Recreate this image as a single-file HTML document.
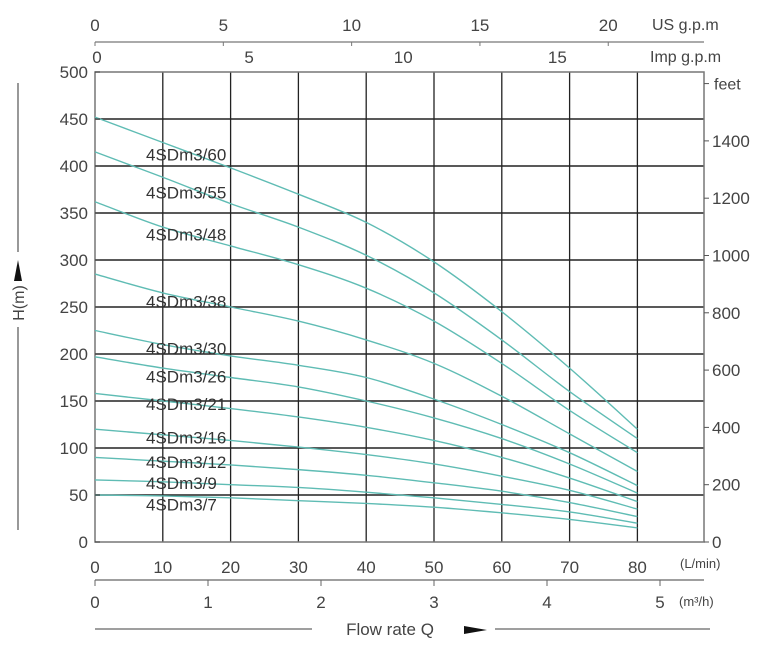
<!DOCTYPE html>
<html><head><meta charset="utf-8"><style>
html,body{margin:0;padding:0;background:#fff;}
svg{display:block;font-family:"Liberation Sans",sans-serif;}
</style></head><body>
<svg id="chart" width="782" height="651" viewBox="0 0 782 651" xmlns="http://www.w3.org/2000/svg">
<g id="grid"></g>
<g id="curves"></g>
<g id="labels"></g>
<g id="axes"></g>
</svg>
<script>
const flowLmin = [0,10,20,30,40,50,60,70,80];
const models = ["4SDm3/60","4SDm3/55","4SDm3/48","4SDm3/38","4SDm3/30","4SDm3/26","4SDm3/21","4SDm3/16","4SDm3/12","4SDm3/9","4SDm3/7"];
const head60 = [452,425,398,370,340,298,245,185,120];
const head55 = [415,388,360,335,305,265,215,160,110];
const head48 = [362,335,315,295,270,235,190,140,95];
const head38 = [285,265,250,235,215,190,155,115,75];
const head30 = [225,210,198,188,175,152,125,95,60];
const head26 = [197,185,175,165,150,132,110,83,52];
const head21 = [158,150,142,133,122,108,90,68,43];
const head16 = [120,114,108,101,93,83,70,55,35];
const head12 = [90,86,82,77,71,63,54,42,27];
const head9 = [66,64,61,58,53,47,40,32,20];
const head7 = [50,49,47,44,41,37,31,24,15];
const labelHeads = [412,372,327,256,206,176,147,111,85,63,40];
const hTicks = [0,50,100,150,200,250,300,350,400,450,500];
const lminTicks = [0,10,20,30,40,50,60,70,80];
const m3hTicks = [0,1,2,3,4,5];
const usTicks = [0,5,10,15,20];
const impTicks = [0,5,10,15];
const feetTicks = [0,200,400,600,800,1000,1200,1400];

const NS="http://www.w3.org/2000/svg";
const X0=95, PX=6.78, XR=704, Y0=542, PY=0.94;
const x = q => X0 + q*PX;
const y = h => Y0 - h*PY;
function el(parent, tag, attrs, text){
  const e=document.createElementNS(NS,tag);
  for(const k in attrs) e.setAttribute(k,attrs[k]);
  if(text!==undefined) e.textContent=text;
  parent.appendChild(e); return e;
}
const grid=document.getElementById('grid'), curves=document.getElementById('curves'),
      labels=document.getElementById('labels'), axes=document.getElementById('axes');

for(let i=1;i<=8;i++){
  const l=el(grid,'line',{x1:x(i*10),x2:x(i*10),y1:y(500),y2:y(0),stroke:'#222','stroke-width':1.3});
  
  
}
hTicks.forEach(h=>{
  if(h===0||h===500) return;
  const l=el(grid,'line',{x1:X0,x2:XR,y1:y(h),y2:y(h),stroke:'#222','stroke-width':1.5});
  
  
});
const frame=el(grid,'rect',{x:X0,y:y(500),width:XR-X0,height:y(0)-y(500),fill:'none',stroke:'#777','stroke-width':1.5});



const series=[head60,head55,head48,head38,head30,head26,head21,head16,head12,head9,head7];
series.forEach((s,i)=>{
  const P=s.map((v,j)=>[x(flowLmin[j]),y(v)]);
  let d='M'+P[0][0]+','+P[0][1];
  for(let j=0;j<P.length-1;j++){
    const p0=P[Math.max(0,j-1)],p1=P[j],p2=P[j+1],p3=P[Math.min(P.length-1,j+2)];
    const c1=[p1[0]+(p2[0]-p0[0])/6,p1[1]+(p2[1]-p0[1])/6];
    const c2=[p2[0]-(p3[0]-p1[0])/6,p2[1]-(p3[1]-p1[1])/6];
    d+=' C'+c1[0]+','+c1[1]+' '+c2[0]+','+c2[1]+' '+p2[0]+','+p2[1];
  }
  const p=el(curves,'path',{d:d,fill:'none',stroke:'#5fbcb4','stroke-width':1.4,'stroke-linejoin':'round'});
  
  
  const t=el(labels,'text',{x:146,y:y(labelHeads[i])+6,'font-size':17,fill:'#333'},models[i]);
  
  
});

hTicks.forEach(h=>{
  const t=el(axes,'text',{x:88,y:y(h)+6,'font-size':17,fill:'#444','text-anchor':'end'},h);
  
  
  const k=el(axes,'line',{x1:X0,x2:X0+5,y1:y(h),y2:y(h),stroke:'#333'});
  
  
});
feetTicks.forEach(f=>{
  const m=f*0.3048;
  const k=el(axes,'line',{x1:XR,x2:XR+5,y1:y(m),y2:y(m),stroke:'#555'});
  
  
  const t=el(axes,'text',{x:XR+8,y:y(m)+6,'font-size':17,fill:'#444'},f);
  
  
});
{
  const m=1600*0.3048;
  const k=el(axes,'line',{x1:XR,x2:XR+5,y1:y(m),y2:y(m),stroke:'#555'});
  
  
  const t=el(axes,'text',{x:XR+10,y:y(m)+6,'font-size':16,fill:'#444'},'feet');
  
  
}
lminTicks.forEach(q=>{
  const t=el(axes,'text',{x:x(q),y:573,'font-size':17,fill:'#444','text-anchor':'middle'},q);
  
  
});
{const t=el(axes,'text',{x:680,y:568,'font-size':13,fill:'#444'},'(L/min)');

}
{const l=el(axes,'line',{x1:X0,x2:XR,y1:580,y2:580,stroke:'#666','stroke-width':1.2});

}
m3hTicks.forEach(q=>{
  const xx=x(q*1000/60);
  const k=el(axes,'line',{x1:xx,x2:xx,y1:580,y2:586,stroke:'#666'});
  
  
  const t=el(axes,'text',{x:xx,y:608,'font-size':17,fill:'#444','text-anchor':'middle'},q);
  
  
});
{const t=el(axes,'text',{x:679,y:606,'font-size':13,fill:'#444'},'(m³/h)');

}
{const l=el(axes,'line',{x1:X0,x2:XR,y1:42,y2:42,stroke:'#777','stroke-width':1.2});

}
usTicks.forEach(g=>{
  const xx=x(g*3.785);
  const k=el(axes,'line',{x1:xx,x2:xx,y1:42,y2:46,stroke:'#777'});
  
  
  const t=el(axes,'text',{x:xx,y:31,'font-size':17,fill:'#444','text-anchor':'middle'},g);
  
  
});
{const t=el(axes,'text',{x:652,y:30,'font-size':16,fill:'#444'},'US g.p.m');

}
impTicks.forEach(g=>{
  const t=el(axes,'text',{x:x(g*4.546)+(g===0?2:0),y:63,'font-size':17,fill:'#444','text-anchor':'middle'},g);
  
  
});
{const t=el(axes,'text',{x:650,y:62,'font-size':16,fill:'#444'},'Imp g.p.m');

}
{
const a=el(axes,'line',{x1:18,x2:18,y1:83,y2:252,stroke:'#555','stroke-width':1.2});


const b=el(axes,'line',{x1:18,x2:18,y1:327,y2:530,stroke:'#555','stroke-width':1.2});


const ar=el(axes,'polygon',{points:'18,260 14,281 22,281',fill:'#111'});


const t=el(axes,'text',{x:0,y:0,'font-size':16,fill:'#444','text-anchor':'middle',transform:'translate(24,303) rotate(-90)'},'H(m)');


}
{
const a=el(axes,'line',{x1:95,x2:312,y1:629,y2:629,stroke:'#666','stroke-width':1.2});


const b=el(axes,'line',{x1:495,x2:710,y1:629,y2:629,stroke:'#666','stroke-width':1.2});


const t=el(axes,'text',{x:390,y:635,'font-size':17,fill:'#444','text-anchor':'middle'},'Flow rate Q');


const ar=el(axes,'polygon',{points:'464,626 487,630 464,634',fill:'#111'});


}
</script>
</body></html>
